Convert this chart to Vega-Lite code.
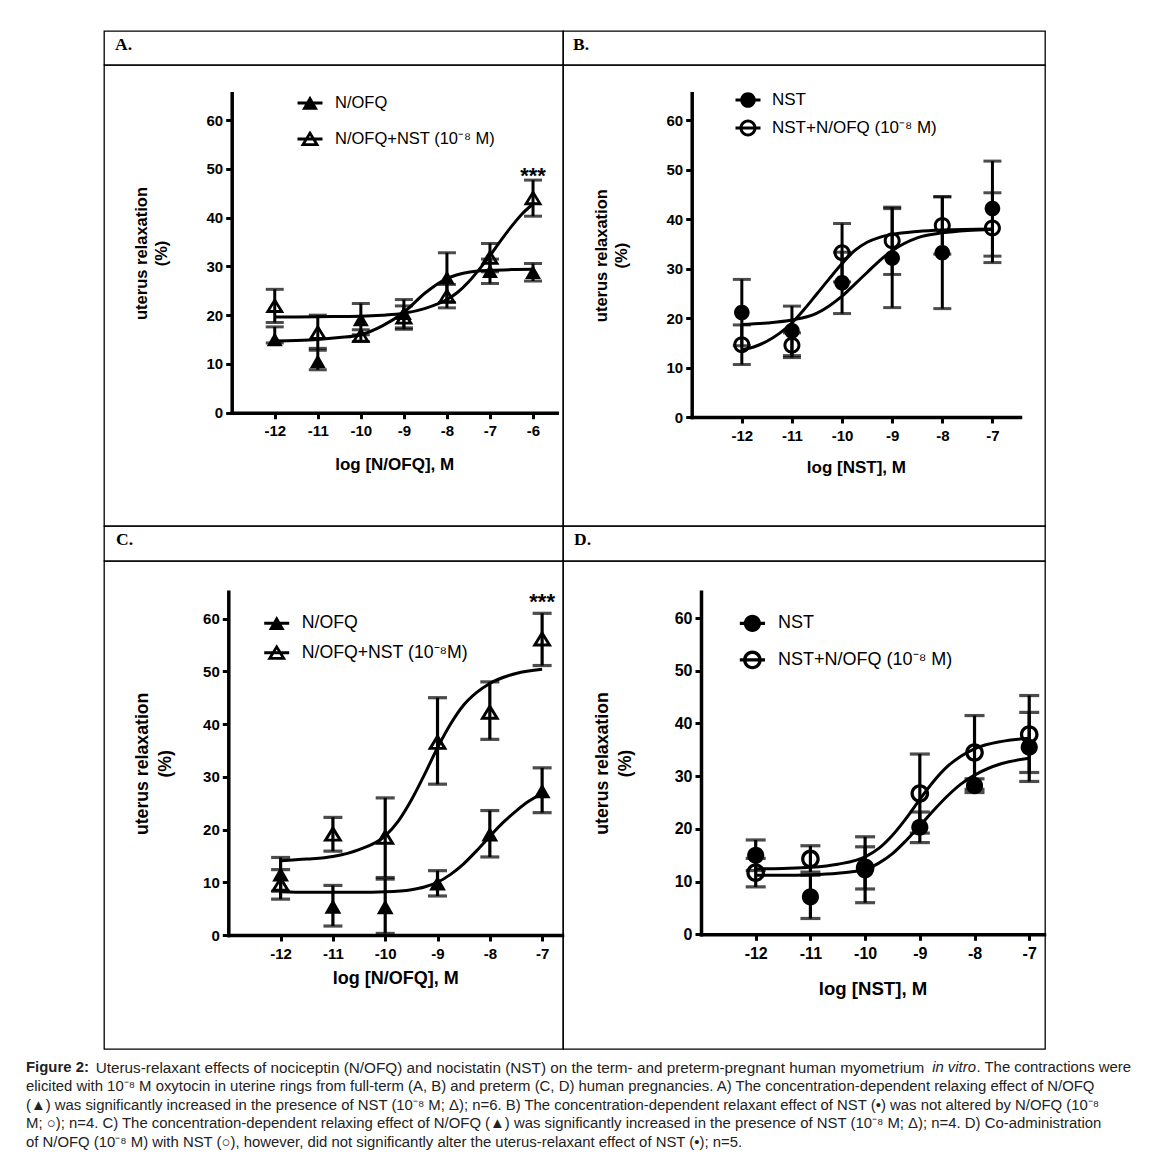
{
"$schema": "https://vega.github.io/schema/vega-lite/v6.json",
"padding": {"left": 26, "top": 30, "right": 0, "bottom": 0},
"background": "white",
"columns": 2,
"spacing": 0,
"bounds": "flush",
"align": "each",
"resolve": {"scale": {"shape": "independent"}, "legend": {"shape": "independent"}},
"config": {
  "font": "Liberation Sans",
  "view": {"stroke": "black", "strokeWidth": 1.3},
  "mark": {"color": "black"},
  "axis": {"domainColor": "black", "domainWidth": 3.5, "domainCap": "square", "tickColor": "black", "tickWidth": 3, "tickSize": 6, "labelColor": "black", "labelFont": "Liberation Sans", "labelFontWeight": "bold", "titleColor": "black", "titleFont": "Liberation Sans", "titleFontWeight": "bold", "grid": false, "labelFlush": false, "labelOverlap": false},
  "axisX": {"labelPadding": 5},
  "axisY": {"labelPadding": 3},
  "legend": {"labelFont": "Liberation Sans", "labelColor": "black", "labelLimit": 600, "symbolFillColor": "black", "symbolStrokeWidth": 0, "symbolOpacity": 1, "padding": 0, "labelFontWeight": "normal"}
},
"datasets": {
  "ptsA": [
    {"x": -12, "series": "N/OFQ", "mean": 15.0, "lo": 14.3, "hi": 17.6},
    {"x": -11, "series": "N/OFQ", "mean": 10.5, "lo": 8.8, "hi": 13.2},
    {"x": -10, "series": "N/OFQ", "mean": 19.1, "lo": 16.0, "hi": 22.4},
    {"x": -9, "series": "N/OFQ", "mean": 20.4, "lo": 17.4, "hi": 23.2},
    {"x": -8, "series": "N/OFQ", "mean": 27.7, "lo": 22.6, "hi": 32.8},
    {"x": -7, "series": "N/OFQ", "mean": 29.0, "lo": 26.5, "hi": 31.5},
    {"x": -6, "series": "N/OFQ", "mean": 28.8, "lo": 27.0, "hi": 30.6},
    {"x": -12, "series": "N/OFQ+NST (10⁻⁸ M)", "mean": 21.9, "lo": 18.5, "hi": 25.3},
    {"x": -11, "series": "N/OFQ+NST (10⁻⁸ M)", "mean": 16.4, "lo": 12.8, "hi": 20.0},
    {"x": -10, "series": "N/OFQ+NST (10⁻⁸ M)", "mean": 15.8, "lo": 14.6, "hi": 17.0},
    {"x": -9, "series": "N/OFQ+NST (10⁻⁸ M)", "mean": 19.5, "lo": 17.1, "hi": 21.9},
    {"x": -8, "series": "N/OFQ+NST (10⁻⁸ M)", "mean": 23.9, "lo": 21.5, "hi": 26.3},
    {"x": -7, "series": "N/OFQ+NST (10⁻⁸ M)", "mean": 31.8, "lo": 28.9, "hi": 34.7},
    {"x": -6, "series": "N/OFQ+NST (10⁻⁸ M)", "mean": 44.0, "lo": 40.3, "hi": 47.7}
  ],
  "curA": [
    {"x": -12, "series": "N/OFQ", "mean": 14.7}, {"x": -11.5, "series": "N/OFQ", "mean": 14.8}, {"x": -11, "series": "N/OFQ", "mean": 15.0}, {"x": -10.5, "series": "N/OFQ", "mean": 15.4}, {"x": -10, "series": "N/OFQ", "mean": 16.0}, {"x": -9.5, "series": "N/OFQ", "mean": 17.8}, {"x": -9, "series": "N/OFQ", "mean": 20.6}, {"x": -8.5, "series": "N/OFQ", "mean": 24.6}, {"x": -8, "series": "N/OFQ", "mean": 27.5}, {"x": -7.5, "series": "N/OFQ", "mean": 28.8}, {"x": -7, "series": "N/OFQ", "mean": 29.2}, {"x": -6.5, "series": "N/OFQ", "mean": 29.35}, {"x": -6, "series": "N/OFQ", "mean": 29.4},
    {"x": -12, "series": "N/OFQ+NST (10⁻⁸ M)", "mean": 19.6}, {"x": -11, "series": "N/OFQ+NST (10⁻⁸ M)", "mean": 19.7}, {"x": -10, "series": "N/OFQ+NST (10⁻⁸ M)", "mean": 19.8}, {"x": -9.5, "series": "N/OFQ+NST (10⁻⁸ M)", "mean": 20.0}, {"x": -9, "series": "N/OFQ+NST (10⁻⁸ M)", "mean": 20.4}, {"x": -8.5, "series": "N/OFQ+NST (10⁻⁸ M)", "mean": 21.4}, {"x": -8, "series": "N/OFQ+NST (10⁻⁸ M)", "mean": 23.2}, {"x": -7.75, "series": "N/OFQ+NST (10⁻⁸ M)", "mean": 24.7}, {"x": -7.5, "series": "N/OFQ+NST (10⁻⁸ M)", "mean": 26.8}, {"x": -7.25, "series": "N/OFQ+NST (10⁻⁸ M)", "mean": 29.4}, {"x": -7, "series": "N/OFQ+NST (10⁻⁸ M)", "mean": 32.2}, {"x": -6.75, "series": "N/OFQ+NST (10⁻⁸ M)", "mean": 35.3}, {"x": -6.5, "series": "N/OFQ+NST (10⁻⁸ M)", "mean": 38.2}, {"x": -6.25, "series": "N/OFQ+NST (10⁻⁸ M)", "mean": 40.8}, {"x": -6, "series": "N/OFQ+NST (10⁻⁸ M)", "mean": 42.8}
  ],
  "ptsB": [
    {"x": -12, "series": "NST", "mean": 21.1, "lo": 14.4, "hi": 27.8},
    {"x": -11, "series": "NST", "mean": 17.4, "lo": 12.4, "hi": 22.4},
    {"x": -10, "series": "NST", "mean": 27.1, "lo": 20.9, "hi": 33.3},
    {"x": -9, "series": "NST", "mean": 32.1, "lo": 22.1, "hi": 42.1},
    {"x": -8, "series": "NST", "mean": 33.2, "lo": 21.9, "hi": 44.5},
    {"x": -7, "series": "NST", "mean": 42.1, "lo": 32.5, "hi": 51.7},
    {"x": -12, "series": "NST+N/OFQ (10⁻⁸ M)", "mean": 14.6, "lo": 10.6, "hi": 18.6},
    {"x": -11, "series": "NST+N/OFQ (10⁻⁸ M)", "mean": 14.5, "lo": 12.0, "hi": 17.0},
    {"x": -10, "series": "NST+N/OFQ (10⁻⁸ M)", "mean": 33.2, "lo": 27.3, "hi": 39.1},
    {"x": -9, "series": "NST+N/OFQ (10⁻⁸ M)", "mean": 35.6, "lo": 28.8, "hi": 42.4},
    {"x": -8, "series": "NST+N/OFQ (10⁻⁸ M)", "mean": 38.7, "lo": 32.9, "hi": 44.5},
    {"x": -7, "series": "NST+N/OFQ (10⁻⁸ M)", "mean": 38.2, "lo": 31.2, "hi": 45.3}
  ],
  "curB": [
    {"x": -12, "series": "NST", "mean": 18.7}, {"x": -11.5, "series": "NST", "mean": 19.0}, {"x": -11, "series": "NST", "mean": 19.6}, {"x": -10.5, "series": "NST", "mean": 21.0}, {"x": -10.25, "series": "NST", "mean": 22.5}, {"x": -10, "series": "NST", "mean": 24.4}, {"x": -9.75, "series": "NST", "mean": 26.8}, {"x": -9.5, "series": "NST", "mean": 29.2}, {"x": -9.25, "series": "NST", "mean": 31.6}, {"x": -9, "series": "NST", "mean": 33.6}, {"x": -8.5, "series": "NST", "mean": 36.2}, {"x": -8, "series": "NST", "mean": 37.2}, {"x": -7.5, "series": "NST", "mean": 37.7}, {"x": -7, "series": "NST", "mean": 37.9},
    {"x": -12, "series": "NST+N/OFQ (10⁻⁸ M)", "mean": 13.6}, {"x": -11.75, "series": "NST+N/OFQ (10⁻⁸ M)", "mean": 14.2}, {"x": -11.5, "series": "NST+N/OFQ (10⁻⁸ M)", "mean": 15.3}, {"x": -11.25, "series": "NST+N/OFQ (10⁻⁸ M)", "mean": 16.9}, {"x": -11, "series": "NST+N/OFQ (10⁻⁸ M)", "mean": 19.0}, {"x": -10.75, "series": "NST+N/OFQ (10⁻⁸ M)", "mean": 21.8}, {"x": -10.5, "series": "NST+N/OFQ (10⁻⁸ M)", "mean": 24.9}, {"x": -10.25, "series": "NST+N/OFQ (10⁻⁸ M)", "mean": 28.0}, {"x": -10, "series": "NST+N/OFQ (10⁻⁸ M)", "mean": 31.0}, {"x": -9.75, "series": "NST+N/OFQ (10⁻⁸ M)", "mean": 33.6}, {"x": -9.5, "series": "NST+N/OFQ (10⁻⁸ M)", "mean": 35.3}, {"x": -9.25, "series": "NST+N/OFQ (10⁻⁸ M)", "mean": 36.3}, {"x": -9, "series": "NST+N/OFQ (10⁻⁸ M)", "mean": 36.9}, {"x": -8.5, "series": "NST+N/OFQ (10⁻⁸ M)", "mean": 37.5}, {"x": -8, "series": "NST+N/OFQ (10⁻⁸ M)", "mean": 37.8}, {"x": -7, "series": "NST+N/OFQ (10⁻⁸ M)", "mean": 38.0}
  ],
  "ptsC": [
    {"x": -12, "series": "N/OFQ", "mean": 11.5, "lo": 8.3, "hi": 14.7},
    {"x": -11, "series": "N/OFQ", "mean": 5.4, "lo": 1.7, "hi": 9.4},
    {"x": -10, "series": "N/OFQ", "mean": 5.3, "lo": 0.3, "hi": 10.6},
    {"x": -9, "series": "N/OFQ", "mean": 9.8, "lo": 7.4, "hi": 12.2},
    {"x": -8, "series": "N/OFQ", "mean": 19.1, "lo": 14.8, "hi": 23.6},
    {"x": -7, "series": "N/OFQ", "mean": 27.3, "lo": 23.2, "hi": 31.7},
    {"x": -12, "series": "N/OFQ+NST (10⁻⁸M)", "mean": 9.6, "lo": 6.8, "hi": 12.4},
    {"x": -11, "series": "N/OFQ+NST (10⁻⁸M)", "mean": 19.1, "lo": 15.9, "hi": 22.3},
    {"x": -10, "series": "N/OFQ+NST (10⁻⁸M)", "mean": 18.5, "lo": 10.9, "hi": 26.0},
    {"x": -9, "series": "N/OFQ+NST (10⁻⁸M)", "mean": 36.5, "lo": 28.6, "hi": 45.0},
    {"x": -8, "series": "N/OFQ+NST (10⁻⁸M)", "mean": 42.2, "lo": 37.1, "hi": 48.0},
    {"x": -7, "series": "N/OFQ+NST (10⁻⁸M)", "mean": 56.1, "lo": 51.1, "hi": 61.0}
  ],
  "curC": [
    {"x": -12, "series": "N/OFQ", "mean": 8.2}, {"x": -11.5, "series": "N/OFQ", "mean": 8.1}, {"x": -11, "series": "N/OFQ", "mean": 8.1}, {"x": -10.5, "series": "N/OFQ", "mean": 8.1}, {"x": -10, "series": "N/OFQ", "mean": 8.2}, {"x": -9.5, "series": "N/OFQ", "mean": 8.6}, {"x": -9.25, "series": "N/OFQ", "mean": 9.1}, {"x": -9, "series": "N/OFQ", "mean": 10.0}, {"x": -8.75, "series": "N/OFQ", "mean": 11.5}, {"x": -8.5, "series": "N/OFQ", "mean": 13.5}, {"x": -8.25, "series": "N/OFQ", "mean": 16.0}, {"x": -8, "series": "N/OFQ", "mean": 18.7}, {"x": -7.75, "series": "N/OFQ", "mean": 21.3}, {"x": -7.5, "series": "N/OFQ", "mean": 23.5}, {"x": -7.25, "series": "N/OFQ", "mean": 25.4}, {"x": -7, "series": "N/OFQ", "mean": 26.8},
    {"x": -12, "series": "N/OFQ+NST (10⁻⁸M)", "mean": 14.1}, {"x": -11.5, "series": "N/OFQ+NST (10⁻⁸M)", "mean": 14.4}, {"x": -11, "series": "N/OFQ+NST (10⁻⁸M)", "mean": 14.9}, {"x": -10.5, "series": "N/OFQ+NST (10⁻⁸M)", "mean": 16.2}, {"x": -10, "series": "N/OFQ+NST (10⁻⁸M)", "mean": 18.8}, {"x": -9.75, "series": "N/OFQ+NST (10⁻⁸M)", "mean": 21.6}, {"x": -9.5, "series": "N/OFQ+NST (10⁻⁸M)", "mean": 25.6}, {"x": -9.25, "series": "N/OFQ+NST (10⁻⁸M)", "mean": 30.4}, {"x": -9, "series": "N/OFQ+NST (10⁻⁸M)", "mean": 35.5}, {"x": -8.75, "series": "N/OFQ+NST (10⁻⁸M)", "mean": 40.0}, {"x": -8.5, "series": "N/OFQ+NST (10⁻⁸M)", "mean": 43.6}, {"x": -8.25, "series": "N/OFQ+NST (10⁻⁸M)", "mean": 46.0}, {"x": -8, "series": "N/OFQ+NST (10⁻⁸M)", "mean": 47.7}, {"x": -7.5, "series": "N/OFQ+NST (10⁻⁸M)", "mean": 49.6}, {"x": -7, "series": "N/OFQ+NST (10⁻⁸M)", "mean": 50.4}
  ],
  "ptsD": [
    {"x": -12, "series": "NST", "mean": 15.0, "lo": 12.1, "hi": 17.9},
    {"x": -11, "series": "NST", "mean": 7.1, "lo": 3.0, "hi": 11.2},
    {"x": -10, "series": "NST", "mean": 12.2, "lo": 6.0, "hi": 18.5},
    {"x": -9, "series": "NST", "mean": 20.3, "lo": 17.4, "hi": 23.2},
    {"x": -8, "series": "NST", "mean": 28.2, "lo": 26.9, "hi": 29.5},
    {"x": -7, "series": "NST", "mean": 35.5, "lo": 29.0, "hi": 42.1},
    {"x": -12, "series": "NST+N/OFQ (10⁻⁸ M)", "mean": 11.7, "lo": 9.0, "hi": 14.4},
    {"x": -11, "series": "NST+N/OFQ (10⁻⁸ M)", "mean": 14.3, "lo": 11.8, "hi": 16.8},
    {"x": -10, "series": "NST+N/OFQ (10⁻⁸ M)", "mean": 12.6, "lo": 8.6, "hi": 16.6},
    {"x": -9, "series": "NST+N/OFQ (10⁻⁸ M)", "mean": 26.7, "lo": 19.2, "hi": 34.2},
    {"x": -8, "series": "NST+N/OFQ (10⁻⁸ M)", "mean": 34.5, "lo": 27.5, "hi": 41.5},
    {"x": -7, "series": "NST+N/OFQ (10⁻⁸ M)", "mean": 37.9, "lo": 30.7, "hi": 45.3}
  ],
  "curD": [
    {"x": -12, "series": "NST", "mean": 11.2}, {"x": -11.5, "series": "NST", "mean": 11.2}, {"x": -11, "series": "NST", "mean": 11.3}, {"x": -10.5, "series": "NST", "mean": 11.6}, {"x": -10, "series": "NST", "mean": 12.3}, {"x": -9.75, "series": "NST", "mean": 13.5}, {"x": -9.5, "series": "NST", "mean": 15.3}, {"x": -9.25, "series": "NST", "mean": 17.8}, {"x": -9, "series": "NST", "mean": 20.6}, {"x": -8.75, "series": "NST", "mean": 23.5}, {"x": -8.5, "series": "NST", "mean": 26.2}, {"x": -8.25, "series": "NST", "mean": 28.5}, {"x": -8, "series": "NST", "mean": 30.2}, {"x": -7.5, "series": "NST", "mean": 32.4}, {"x": -7, "series": "NST", "mean": 33.4},
    {"x": -12, "series": "NST+N/OFQ (10⁻⁸ M)", "mean": 12.4}, {"x": -11.5, "series": "NST+N/OFQ (10⁻⁸ M)", "mean": 12.5}, {"x": -11, "series": "NST+N/OFQ (10⁻⁸ M)", "mean": 12.7}, {"x": -10.5, "series": "NST+N/OFQ (10⁻⁸ M)", "mean": 13.3}, {"x": -10, "series": "NST+N/OFQ (10⁻⁸ M)", "mean": 14.7}, {"x": -9.75, "series": "NST+N/OFQ (10⁻⁸ M)", "mean": 16.3}, {"x": -9.5, "series": "NST+N/OFQ (10⁻⁸ M)", "mean": 18.8}, {"x": -9.25, "series": "NST+N/OFQ (10⁻⁸ M)", "mean": 22.0}, {"x": -9, "series": "NST+N/OFQ (10⁻⁸ M)", "mean": 25.6}, {"x": -8.75, "series": "NST+N/OFQ (10⁻⁸ M)", "mean": 29.0}, {"x": -8.5, "series": "NST+N/OFQ (10⁻⁸ M)", "mean": 31.8}, {"x": -8.25, "series": "NST+N/OFQ (10⁻⁸ M)", "mean": 33.8}, {"x": -8, "series": "NST+N/OFQ (10⁻⁸ M)", "mean": 35.2}, {"x": -7.5, "series": "NST+N/OFQ (10⁻⁸ M)", "mean": 36.6}, {"x": -7, "series": "NST+N/OFQ (10⁻⁸ M)", "mean": 37.2}
  ],
  "caption": [
    {"line": 1, "seg": "bold", "text": "Figure 2:"},
    {"line": 1, "seg": "mid", "text": "Uterus-relaxant effects of nociceptin (N/OFQ) and nocistatin (NST) on the term- and preterm-pregnant human myometrium"},
    {"line": 1, "seg": "ital", "text": "in vitro"},
    {"line": 1, "seg": "end", "text": ". The contractions were"},
    {"line": 2, "seg": "full", "text": "elicited with 10⁻⁸ M oxytocin in uterine rings from full-term (A, B) and preterm (C, D) human pregnancies. A) The concentration-dependent relaxing effect of N/OFQ"},
    {"line": 3, "seg": "full", "text": "(▲) was significantly increased in the presence of NST (10⁻⁸ M; Δ); n=6. B) The concentration-dependent relaxant effect of NST (•) was not altered by N/OFQ (10⁻⁸"},
    {"line": 4, "seg": "full", "text": "M; ○); n=4. C) The concentration-dependent relaxing effect of N/OFQ (▲) was significantly increased in the presence of NST (10⁻⁸ M; Δ); n=4. D) Co-administration"},
    {"line": 5, "seg": "full", "text": "of N/OFQ (10⁻⁸ M) with NST (○), however, did not significantly alter the uterus-relaxant effect of NST (•); n=5."}
  ]
},
"concat": [
  {"width": 459, "height": 34, "data": {"values": [{"label": "A."}]},
   "mark": {"type": "text", "align": "left", "baseline": "middle", "dx": 11, "font": "Liberation Serif", "fontSize": 17.5, "fontWeight": "bold", "color": "black"},
   "encoding": {"text": {"field": "label"}, "x": {"datum": 0, "type": "quantitative", "scale": {"domain": [0, 1]}, "axis": null}, "y": {"datum": 0.59, "type": "quantitative", "scale": {"domain": [0, 1]}, "axis": null}}},
  {"width": 482, "height": 34, "data": {"values": [{"label": "B."}]},
   "mark": {"type": "text", "align": "left", "baseline": "middle", "dx": 10, "font": "Liberation Serif", "fontSize": 17.5, "fontWeight": "bold", "color": "black"},
   "encoding": {"text": {"field": "label"}, "x": {"datum": 0, "type": "quantitative", "scale": {"domain": [0, 1]}, "axis": null}, "y": {"datum": 0.59, "type": "quantitative", "scale": {"domain": [0, 1]}, "axis": null}}},
  {"width": 459, "height": 461,
   "encoding": {
     "x": {"field": "x", "type": "quantitative", "scale": {"domain": [-13, -5.45], "range": [127.7, 452.7], "nice": false, "zero": false},
           "axis": {"values": [-12, -11, -10, -9, -8, -7, -6], "labelExpr": "'-' + abs(datum.value)", "offset": -113.3, "title": "log [N/OFQ], M", "titleFontSize": 17, "titlePadding": 17.5, "labelFontSize": 15}},
     "y": {"field": "mean", "type": "quantitative", "scale": {"domain": [0, 65.5], "range": [347.7, 28.3], "nice": false, "zero": false},
           "axis": {"values": [0, 10, 20, 30, 40, 50, 60], "offset": -127.7, "title": ["uterus relaxation", "(%)"], "titleFontSize": 16.5, "titleLineHeight": 20, "titlePadding": 37, "labelFontSize": 15}}
   },
   "resolve": {"scale": {"shape": "independent"}, "legend": {"shape": "independent"}},
   "layer": [
     {"data": {"name": "ptsA"}, "mark": {"type": "errorbar", "ticks": {"color": "black"}, "rule": {"color": "black"}, "size": 18, "thickness": 3},
      "encoding": {"y": {"field": "lo", "type": "quantitative", "scale": {"domain": [0, 65.5], "range": [347.7, 28.3], "nice": false, "zero": false},
           "axis": {"values": [0, 10, 20, 30, 40, 50, 60], "offset": -127.7, "title": ["uterus relaxation", "(%)"], "titleFontSize": 16.5, "titleLineHeight": 20, "titlePadding": 37, "labelFontSize": 15}}, "y2": {"field": "hi"}}},
     {"data": {"name": "curA"}, "mark": {"type": "line", "color": "black", "strokeWidth": 3, "interpolate": "monotone"}, "encoding": {"detail": {"field": "series"}}},
     {"data": {"name": "ptsA"}, "mark": {"type": "point", "filled": true, "color": "black", "size": 400, "opacity": 1},
      "encoding": {"shape": {"field": "series", "type": "nominal", "scale": {"domain": ["N/OFQ", "N/OFQ+NST (10⁻⁸ M)"], "range": ["M0,-0.72L0.8,0.68L-0.8,0.68Z", "M0,-0.85L0.95,0.7L-0.95,0.7ZM0,-0.315L-0.45,0.42L0.45,0.42Z"]}, "legend": null}}},
     {"data": {"name": "ptsA"}, "mark": {"type": "point", "filled": true, "color": "black", "size": 400, "opacity": 0},
      "encoding": {"shape": {"field": "series", "type": "nominal", "scale": {"domain": ["N/OFQ", "N/OFQ+NST (10⁻⁸ M)"], "range": ["M-1.25,-0.15H1.25V0.15H-1.25ZM0,-0.72L0.8,0.68L-0.8,0.68Z", "M-1.25,-0.15H1.25V0.15H-1.25ZM0,-0.85L0.95,0.7L-0.95,0.7ZM0,-0.315L-0.45,0.42L0.45,0.42Z"]},
        "legend": {"orient": "none", "legendX": 196, "legendY": 28, "title": null, "symbolSize": 400, "labelFontSize": 16.5, "labelOffset": 15, "rowPadding": 17}}}},
     {"data": {"values": [{"x": -6, "mean": 48.6, "label": "***"}]}, "mark": {"type": "text", "fontSize": 22, "fontWeight": "bold", "baseline": "middle", "color": "black"}, "encoding": {"text": {"field": "label"}}}
   ]},
  {"width": 482, "height": 461,
   "encoding": {
     "x": {"field": "x", "type": "quantitative", "scale": {"domain": [-13, -6.45], "range": [128.7, 457], "nice": false, "zero": false},
           "axis": {"values": [-12, -11, -10, -9, -8, -7], "labelExpr": "'-' + abs(datum.value)", "offset": -109, "title": "log [NST], M", "titleFontSize": 17, "titlePadding": 16.5, "labelFontSize": 15}},
     "y": {"field": "mean", "type": "quantitative", "scale": {"domain": [0, 65.4], "range": [352, 28.3], "nice": false, "zero": false},
           "axis": {"values": [0, 10, 20, 30, 40, 50, 60], "offset": -128.7, "title": ["uterus relaxation", "(%)"], "titleFontSize": 16.5, "titleLineHeight": 20, "titlePadding": 37, "labelFontSize": 15}}
   },
   "resolve": {"scale": {"shape": "independent"}, "legend": {"shape": "independent"}},
   "layer": [
     {"data": {"name": "ptsB"}, "mark": {"type": "errorbar", "ticks": {"color": "black"}, "rule": {"color": "black"}, "size": 18, "thickness": 3},
      "encoding": {"y": {"field": "lo", "type": "quantitative", "scale": {"domain": [0, 65.4], "range": [352, 28.3], "nice": false, "zero": false},
           "axis": {"values": [0, 10, 20, 30, 40, 50, 60], "offset": -128.7, "title": ["uterus relaxation", "(%)"], "titleFontSize": 16.5, "titleLineHeight": 20, "titlePadding": 37, "labelFontSize": 15}}, "y2": {"field": "hi"}}},
     {"data": {"name": "curB"}, "mark": {"type": "line", "color": "black", "strokeWidth": 3, "interpolate": "monotone"}, "encoding": {"detail": {"field": "series"}}},
     {"data": {"name": "ptsB"}, "mark": {"type": "point", "filled": true, "color": "black", "size": 400, "opacity": 1},
      "encoding": {"shape": {"field": "series", "type": "nominal", "scale": {"domain": ["NST", "NST+N/OFQ (10⁻⁸ M)"], "range": ["M-0.78,0A0.78 0.78 0 1 1 0.78,0A0.78 0.78 0 1 1 -0.78,0Z", "M-0.85,0A0.85 0.85 0 1 1 0.85,0A0.85 0.85 0 1 1 -0.85,0ZM-0.55,0A0.55 0.55 0 1 0 0.55,0A0.55 0.55 0 1 0 -0.55,0Z"]}, "legend": null}}},
     {"data": {"name": "ptsB"}, "mark": {"type": "point", "filled": true, "color": "black", "size": 400, "opacity": 0},
      "encoding": {"shape": {"field": "series", "type": "nominal", "scale": {"domain": ["NST", "NST+N/OFQ (10⁻⁸ M)"], "range": ["M-1.25,-0.15H1.25V0.15H-1.25ZM-0.78,0A0.78 0.78 0 1 1 0.78,0A0.78 0.78 0 1 1 -0.78,0Z", "M-1.25,-0.15H1.25V0.15H-1.25ZM-0.85,0A0.85 0.85 0 1 1 0.85,0A0.85 0.85 0 1 1 -0.85,0ZM-0.55,0A0.55 0.55 0 1 0 0.55,0A0.55 0.55 0 1 0 -0.55,0Z"]},
        "legend": {"orient": "none", "legendX": 175, "legendY": 25, "title": null, "symbolSize": 400, "labelFontSize": 17, "labelOffset": 14, "rowPadding": 10}}}}
   ]},
  {"width": 459, "height": 35, "data": {"values": [{"label": "C."}]},
   "mark": {"type": "text", "align": "left", "baseline": "middle", "dx": 12, "font": "Liberation Serif", "fontSize": 17.5, "fontWeight": "bold", "color": "black"},
   "encoding": {"text": {"field": "label"}, "x": {"datum": 0, "type": "quantitative", "scale": {"domain": [0, 1]}, "axis": null}, "y": {"datum": 0.6, "type": "quantitative", "scale": {"domain": [0, 1]}, "axis": null}}},
  {"width": 482, "height": 35, "data": {"values": [{"label": "D."}]},
   "mark": {"type": "text", "align": "left", "baseline": "middle", "dx": 11, "font": "Liberation Serif", "fontSize": 17.5, "fontWeight": "bold", "color": "black"},
   "encoding": {"text": {"field": "label"}, "x": {"datum": 0, "type": "quantitative", "scale": {"domain": [0, 1]}, "axis": null}, "y": {"datum": 0.6, "type": "quantitative", "scale": {"domain": [0, 1]}, "axis": null}}},
  {"width": 459, "height": 488,
   "encoding": {
     "x": {"field": "x", "type": "quantitative", "scale": {"domain": [-13, -6.62], "range": [124.3, 458], "nice": false, "zero": false},
           "axis": {"values": [-12, -11, -10, -9, -8, -7], "labelExpr": "'-' + abs(datum.value)", "offset": -114, "title": "log [N/OFQ], M", "titleFontSize": 18, "titlePadding": 8.5, "labelFontSize": 15}},
     "y": {"field": "mean", "type": "quantitative", "scale": {"domain": [0, 65.1], "range": [374, 30.7], "nice": false, "zero": false},
           "axis": {"values": [0, 10, 20, 30, 40, 50, 60], "offset": -124.3, "title": ["uterus relaxation", "(%)"], "titleFontSize": 17.7, "titleLineHeight": 23, "titlePadding": 28.5, "labelFontSize": 15}}
   },
   "resolve": {"scale": {"shape": "independent"}, "legend": {"shape": "independent"}},
   "layer": [
     {"data": {"name": "ptsC"}, "mark": {"type": "errorbar", "ticks": {"color": "black"}, "rule": {"color": "black"}, "size": 19, "thickness": 3.2},
      "encoding": {"y": {"field": "lo", "type": "quantitative", "scale": {"domain": [0, 65.1], "range": [374, 30.7], "nice": false, "zero": false},
           "axis": {"values": [0, 10, 20, 30, 40, 50, 60], "offset": -124.3, "title": ["uterus relaxation", "(%)"], "titleFontSize": 17.7, "titleLineHeight": 23, "titlePadding": 28.5, "labelFontSize": 15}}, "y2": {"field": "hi"}}},
     {"data": {"name": "curC"}, "mark": {"type": "line", "color": "black", "strokeWidth": 3, "interpolate": "monotone"}, "encoding": {"detail": {"field": "series"}}},
     {"data": {"name": "ptsC"}, "mark": {"type": "point", "filled": true, "color": "black", "size": 440, "opacity": 1},
      "encoding": {"shape": {"field": "series", "type": "nominal", "scale": {"domain": ["N/OFQ", "N/OFQ+NST (10⁻⁸M)"], "range": ["M0,-0.72L0.8,0.68L-0.8,0.68Z", "M0,-0.85L0.95,0.7L-0.95,0.7ZM0,-0.315L-0.45,0.42L0.45,0.42Z"]}, "legend": null}}},
     {"data": {"name": "ptsC"}, "mark": {"type": "point", "filled": true, "color": "black", "size": 400, "opacity": 0},
      "encoding": {"shape": {"field": "series", "type": "nominal", "scale": {"domain": ["N/OFQ", "N/OFQ+NST (10⁻⁸M)"], "range": ["M-1.25,-0.15H1.25V0.15H-1.25ZM0,-0.72L0.8,0.68L-0.8,0.68Z", "M-1.25,-0.15H1.25V0.15H-1.25ZM0,-0.85L0.95,0.7L-0.95,0.7ZM0,-0.315L-0.45,0.42L0.45,0.42Z"]},
        "legend": {"orient": "none", "legendX": 162.7, "legendY": 52.3, "title": null, "symbolSize": 400, "labelFontSize": 17.7, "labelOffset": 15, "rowPadding": 10.4}}}},
     {"data": {"values": [{"x": -7, "mean": 63.2, "label": "***"}]}, "mark": {"type": "text", "fontSize": 22, "fontWeight": "bold", "baseline": "middle", "color": "black"}, "encoding": {"text": {"field": "label"}}}
   ]},
  {"width": 482, "height": 488,
   "encoding": {
     "x": {"field": "x", "type": "quantitative", "scale": {"domain": [-13, -6.73], "range": [138, 481], "nice": false, "zero": false},
           "axis": {"values": [-12, -11, -10, -9, -8, -7], "labelExpr": "'-' + abs(datum.value)", "offset": -114.7, "title": "log [NST], M", "titleFontSize": 18.6, "titlePadding": 18, "labelFontSize": 16}},
     "y": {"field": "mean", "type": "quantitative", "scale": {"domain": [0, 65], "range": [373.3, 30.7], "nice": false, "zero": false},
           "axis": {"values": [0, 10, 20, 30, 40, 50, 60], "offset": -138, "title": ["uterus relaxation", "(%)"], "titleFontSize": 17.7, "titleLineHeight": 23, "titlePadding": 40, "labelFontSize": 16}}
   },
   "resolve": {"scale": {"shape": "independent"}, "legend": {"shape": "independent"}},
   "layer": [
     {"data": {"name": "ptsD"}, "mark": {"type": "errorbar", "ticks": {"color": "black"}, "rule": {"color": "black"}, "size": 20, "thickness": 3.2},
      "encoding": {"y": {"field": "lo", "type": "quantitative", "scale": {"domain": [0, 65], "range": [373.3, 30.7], "nice": false, "zero": false},
           "axis": {"values": [0, 10, 20, 30, 40, 50, 60], "offset": -138, "title": ["uterus relaxation", "(%)"], "titleFontSize": 17.7, "titleLineHeight": 23, "titlePadding": 40, "labelFontSize": 16}}, "y2": {"field": "hi"}}},
     {"data": {"name": "curD"}, "mark": {"type": "line", "color": "black", "strokeWidth": 3, "interpolate": "monotone"}, "encoding": {"detail": {"field": "series"}}},
     {"data": {"name": "ptsD"}, "mark": {"type": "point", "filled": true, "color": "black", "size": 480, "opacity": 1},
      "encoding": {"shape": {"field": "series", "type": "nominal", "scale": {"domain": ["NST", "NST+N/OFQ (10⁻⁸ M)"], "range": ["M-0.78,0A0.78 0.78 0 1 1 0.78,0A0.78 0.78 0 1 1 -0.78,0Z", "M-0.85,0A0.85 0.85 0 1 1 0.85,0A0.85 0.85 0 1 1 -0.85,0ZM-0.55,0A0.55 0.55 0 1 0 0.55,0A0.55 0.55 0 1 0 -0.55,0Z"]}, "legend": null}}},
     {"data": {"name": "ptsD"}, "mark": {"type": "point", "filled": true, "color": "black", "size": 480, "opacity": 0},
      "encoding": {"shape": {"field": "series", "type": "nominal", "scale": {"domain": ["NST", "NST+N/OFQ (10⁻⁸ M)"], "range": ["M-1.15,-0.14H1.15V0.14H-1.15ZM-0.78,0A0.78 0.78 0 1 1 0.78,0A0.78 0.78 0 1 1 -0.78,0Z", "M-1.15,-0.14H1.15V0.14H-1.15ZM-0.85,0A0.85 0.85 0 1 1 0.85,0A0.85 0.85 0 1 1 -0.85,0ZM-0.55,0A0.55 0.55 0 1 0 0.55,0A0.55 0.55 0 1 0 -0.55,0Z"]},
        "legend": {"orient": "none", "legendX": 178.4, "legendY": 51.4, "title": null, "symbolSize": 480, "labelFontSize": 18, "labelOffset": 14.7, "rowPadding": 16.5}}}}
   ]},
  {"width": 459, "height": 113, "view": {"stroke": null},
   "data": {"name": "caption"},
   "encoding": {
     "y": {"field": "line", "type": "ordinal", "scale": {"type": "point", "padding": 1.1}, "axis": null},
     "x": {"datum": 0, "type": "quantitative", "scale": {"domain": [0, 1]}, "axis": null},
     "text": {"field": "text"}
   },
   "layer": [
     {"transform": [{"filter": "datum.seg == 'full'"}], "mark": {"type": "text", "align": "left", "baseline": "middle", "dx": -78, "font": "Liberation Sans", "fontSize": 14.9, "color": "#222"}},
     {"transform": [{"filter": "datum.seg == 'bold'"}], "mark": {"type": "text", "align": "left", "baseline": "middle", "dx": -78, "font": "Liberation Sans", "fontSize": 14.9, "fontWeight": "bold", "color": "#222"}},
     {"transform": [{"filter": "datum.seg == 'mid'"}], "mark": {"type": "text", "align": "center", "baseline": "middle", "dx": 406, "font": "Liberation Sans", "fontSize": 15.3, "color": "#222"}},
     {"transform": [{"filter": "datum.seg == 'ital'"}], "mark": {"type": "text", "align": "right", "baseline": "middle", "dx": 872, "font": "Liberation Sans", "fontSize": 14.9, "fontStyle": "italic", "color": "#222"}},
     {"transform": [{"filter": "datum.seg == 'end'"}], "mark": {"type": "text", "align": "right", "baseline": "middle", "dx": 1027, "font": "Liberation Sans", "fontSize": 14.9, "color": "#222"}}
   ]}
]
}
